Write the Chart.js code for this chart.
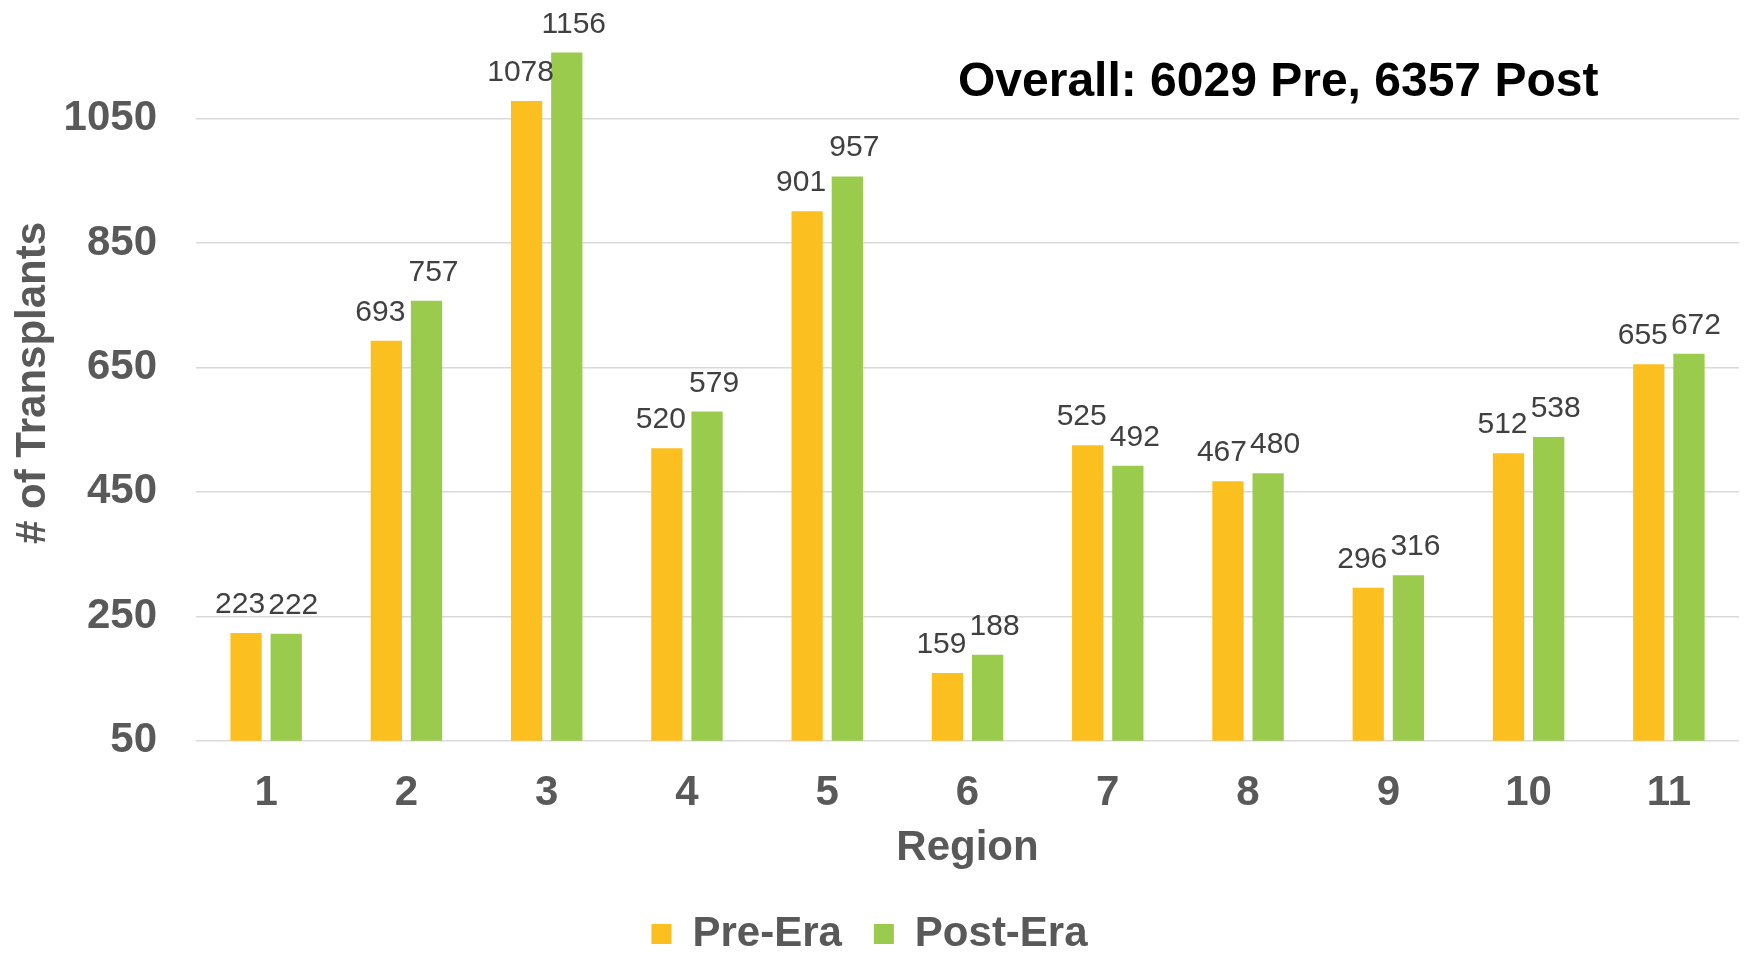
<!DOCTYPE html>
<html>
<head>
<meta charset="utf-8">
<title>Transplants by Region</title>
<script src="https://cdn.jsdelivr.net/npm/chart.js@4.4.1/dist/chart.umd.min.js"></script>
<style>
  html, body { margin: 0; padding: 0; background: #fff; }
  #wrap { width: 1751px; height: 953px; }
</style>
</head>
<body>
<div id="wrap"><canvas id="chart" width="1751" height="953"></canvas></div>
<script>
// chart data
const regions = ['1', '2', '3', '4', '5', '6', '7', '8', '9', '10', '11'];
const preEra = [223, 693, 1078, 520, 901, 159, 525, 467, 296, 512, 655];
const postEra = [222, 757, 1156, 579, 957, 188, 492, 480, 316, 538, 672];
const yTicks = [50, 250, 450, 650, 850, 1050];
const overallText = 'Overall: 6029 Pre, 6357 Post';

const FONT = "'Liberation Sans', Arial, sans-serif";
const GREY = '#595959';

// value labels above each bar (pre nudged left, post nudged right like the original)
const barLabels = {
  id: 'barLabels',
  afterDatasetsDraw(chart) {
    const ctx = chart.ctx;
    ctx.save();
    ctx.font = '30px ' + FONT;
    ctx.fillStyle = '#404040';
    ctx.textAlign = 'center';
    ctx.textBaseline = 'alphabetic';
    chart.data.datasets.forEach((ds, i) => {
      const shift = i === 0 ? -6 : 7;
      chart.getDatasetMeta(i).data.forEach((bar, j) => {
        ctx.fillText(String(ds.data[j]), bar.x + shift, bar.y - 20);
      });
    });
    ctx.restore();
  }
};

// the "Overall" note inside the plot
const overallNote = {
  id: 'overallNote',
  afterDraw(chart) {
    const ctx = chart.ctx;
    ctx.save();
    ctx.font = 'bold 48px ' + FONT;
    ctx.fillStyle = '#000';
    ctx.textAlign = 'left';
    ctx.textBaseline = 'alphabetic';
    ctx.fillText(overallText, 958, 96);
    ctx.restore();
  }
};

new Chart(document.getElementById('chart'), {
  type: 'bar',
  data: {
    labels: regions,
    datasets: [
      { label: 'Pre-Era', data: preEra, backgroundColor: '#FBC020' },
      { label: 'Post-Era', data: postEra, backgroundColor: '#9BCB4C' }
    ]
  },
  options: {
    responsive: false,
    animation: false,
    devicePixelRatio: 1,
    categoryPercentage: 0.573,
    barPercentage: 0.778,
    layout: { padding: { top: 24, right: 12, bottom: -12, left: 0 } },
    plugins: {
      tooltip: { enabled: false },
      legend: {
        position: 'bottom',
        labels: {
          boxWidth: 20,
          boxHeight: 20,
          padding: 32,
          color: GREY,
          font: { family: FONT, size: 42, weight: 'bold' }
        }
      }
    },
    scales: {
      x: {
        grid: { display: false },
        border: { display: false },
        ticks: { color: GREY, padding: 20, font: { family: FONT, size: 42, weight: 'bold' } },
        title: {
          display: true, text: 'Region', color: GREY, padding: { top: 0, bottom: 7 },
          font: { family: FONT, size: 42, weight: 'bold' }
        },
        afterFit(scale) {
          scale.height = scale.chart.height + 12 - scale.chart.legend.height - 740.7;
        }
      },
      y: {
        min: 50,
        max: 1200,
        afterBuildTicks(axis) {
          axis.ticks = yTicks.map(v => ({ value: v }));
        },
        // invisible tick marks give the label gap without padding the top of the plot
        grid: { color: '#D9D9D9', lineWidth: 1.5, drawTicks: true, tickLength: 39, tickColor: 'rgba(0,0,0,0)' },
        border: { display: false },
        ticks: {
          color: GREY, padding: 0, font: { family: FONT, size: 42, weight: 'bold' },
          callback: v => String(v)
        },
        title: {
          display: true, text: '# of Transplants', color: GREY, padding: { top: 8, bottom: 0 },
          font: { family: FONT, size: 42, weight: 'bold' }
        },
        afterFit(scale) {
          scale.width = 196;
        }
      }
    }
  },
  plugins: [barLabels, overallNote]
});
</script>
</body>
</html>
